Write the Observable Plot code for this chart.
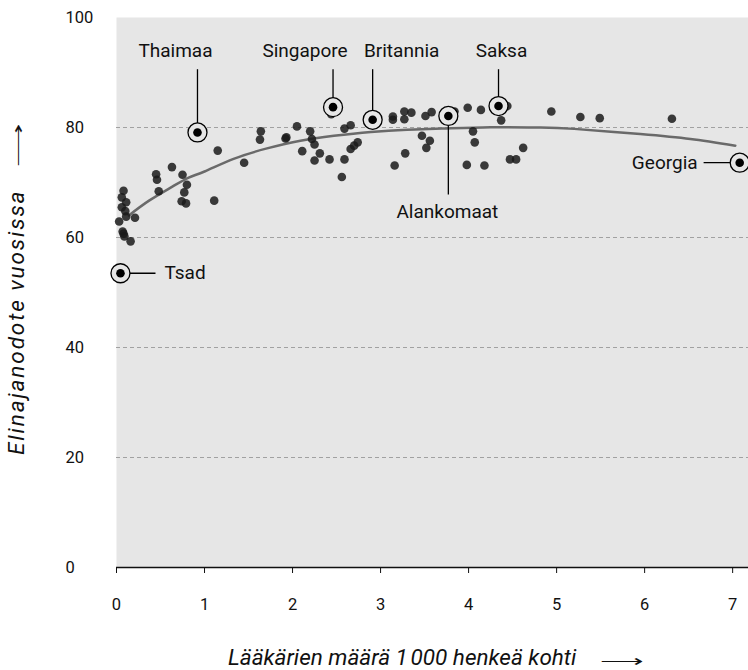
<!DOCTYPE html>
<html>
<head>
<meta charset="utf-8">
<script src="https://cdn.jsdelivr.net/npm/d3@7"></script>
<script src="https://cdn.jsdelivr.net/npm/@observablehq/plot@0.6"></script>
<style>
  body { margin: 0; background: #fff; }
  svg { font-family: Roboto, "Noto Sans", sans-serif; }
</style>
</head>
<body>
<div id="chart"></div>
<script>
// Doctors per 1 000 people (x) and life expectancy in years (y)
const doctors = [0.08,0.06,0.11,0.06,0.10,0.11,0.03,0.21,0.07,0.08,0.09,0.16,
  0.45,0.46,0.48,0.63,0.75,0.80,0.77,0.74,0.79,1.11,1.15,1.45,1.64,1.63,1.92,1.93,
  2.05,2.20,2.22,2.25,2.11,2.31,2.25,2.42,2.59,2.56,2.44,2.59,2.66,2.66,2.70,2.74,
  3.14,3.14,3.27,3.27,3.35,3.51,3.58,3.47,3.56,3.52,3.28,3.16,3.84,3.99,3.98,4.14,
  4.44,4.37,4.05,4.07,4.18,4.47,4.54,4.62,4.94,5.27,5.49,6.31];
const lifeExp = [68.5,67.3,66.4,65.5,64.8,63.8,62.9,63.6,61.1,60.7,60.2,59.3,
  71.5,70.5,68.4,72.8,71.4,69.6,68.2,66.6,66.2,66.7,75.8,73.6,79.3,77.8,78.0,78.2,
  80.2,79.3,77.9,76.9,75.7,75.3,74.0,74.2,74.2,71.0,82.4,79.8,80.4,76.1,76.7,77.3,
  82.0,81.4,82.9,81.5,82.7,82.1,82.8,78.5,77.6,76.3,75.3,73.1,82.9,83.6,73.2,83.2,
  83.9,81.3,79.3,77.3,73.1,74.2,74.2,76.3,82.9,81.9,81.7,81.6];

// Highlighted countries
const hlNames = ["Tsad","Thaimaa","Singapore","Britannia","Alankomaat","Saksa","Georgia"];
const hlDoctors = [0.045,0.92,2.46,2.91,3.77,4.34,7.08];
const hlLifeExp = [53.5,79.1,83.7,81.4,82.1,83.9,73.6];

// Trend curve
const trendX = [0.14,0.37,0.63,0.82,1.0,1.33,1.71,2.09,2.47,2.89,3.3,3.7,4.25,4.8,5.2,5.95,6.52,7.03];
const trendY = [64.0,66.7,69.2,70.9,72.0,74.3,76.2,77.6,78.5,79.2,79.6,79.8,80.05,80.0,79.75,78.8,77.9,76.7];

const yTicks = [0,20,40,60,80,100];
const xTicks = [0,1,2,3,4,5,6,7];
const gridTicks = [20,40,60,80];

const points = doctors.map((x,i) => ({x, y: lifeExp[i]}));
const hl = hlNames.map((name,i) => ({name, x: hlDoctors[i], y: hlLifeExp[i]}));
const trend = trendX.map((x,i) => ({x, y: trendY[i]}));

const BG = "#e6e6e6";
const LABEL_SIZE = 19;
const annotations = {
  Thaimaa:    {dir: "up", dx: -22},
  Singapore:  {dir: "up", dx: -28},
  Britannia:  {dir: "up", dx: 29},
  Saksa:      {dir: "up", dx: 3},
  Alankomaat: {dir: "down", dx: -1},
  Georgia:    {dir: "left"},
  Tsad:       {dir: "right"}
};

const annMarks = [];
for (const d of hl) {
  const a = annotations[d.name];
  const common = {text: "name", fontSize: LABEL_SIZE, fill: "#111"};
  if (a.dir === "up") {
    annMarks.push(Plot.link([d], {x1: "x", y1: "y", x2: "x", y2: () => 90.6, stroke: "black", strokeWidth: 1.3}));
    annMarks.push(Plot.text([d], {x: "x", y: () => 94, dx: a.dx, ...common}));
  } else if (a.dir === "down") {
    annMarks.push(Plot.link([d], {x1: "x", y1: "y", x2: "x", y2: () => 67.8, stroke: "black", strokeWidth: 1.3}));
    annMarks.push(Plot.text([d], {x: "x", y: () => 64.6, dx: a.dx, ...common}));
  } else if (a.dir === "left") {
    annMarks.push(Plot.link([d], {x1: "x", y1: "y", x2: () => 6.67, y2: "y", stroke: "black", strokeWidth: 1.3}));
    annMarks.push(Plot.text([d], {x: () => 6.67, y: "y", dx: -6, textAnchor: "end", ...common}));
  } else {
    annMarks.push(Plot.link([d], {x1: "x", y1: "y", x2: () => 0.443, y2: "y", stroke: "black", strokeWidth: 1.3}));
    annMarks.push(Plot.text([d], {x: () => 0.443, y: "y", dx: 9, textAnchor: "start", ...common}));
  }
}

const chart = Plot.plot({
  width: 748,
  height: 670,
  marginLeft: 116,
  marginRight: 0,
  marginTop: 17,
  marginBottom: 103,
  style: {fontFamily: "Roboto, 'Noto Sans', sans-serif", fontSize: "16px", color: "#111", background: "#fff"},
  x: {domain: [0, 7.18], label: null},
  y: {domain: [0, 100], label: null},
  marks: [
    Plot.frame({fill: BG, stroke: null}),
    Plot.gridY(gridTicks, {stroke: "#999", strokeOpacity: 0.9, strokeDasharray: "4,3", strokeWidth: 1}),
    Plot.line(trend, {x: "x", y: "y", curve: "natural", stroke: "#6a6a6a", strokeWidth: 2.5}),
    Plot.dot(points, {x: "x", y: "y", r: 4.3, fill: "#1a1a1a", fillOpacity: 0.85, stroke: "none"}),
    ...annMarks,
    Plot.dot(hl, {x: "x", y: "y", r: 9.5, fill: BG, stroke: "black", strokeWidth: 1.3}),
    Plot.dot(hl, {x: "x", y: "y", r: 4.3, fill: "black"}),
    Plot.ruleY([0], {stroke: "#111", strokeWidth: 1.5}),
    Plot.axisX(xTicks, {tickSize: 6, tickPadding: 25, stroke: "#111", fontSize: 16.5, label: null}),
    Plot.axisY(yTicks, {tickSize: 0, textAnchor: "start", dx: -42, fontSize: 16.5, label: null})
  ]
});

const svg = d3.select(chart);
// x-axis title
svg.append("text")
  .attr("x", 228).attr("y", 665)
  .attr("text-anchor", "start")
  .attr("font-style", "italic")
  .attr("font-size", 22.5)
  .attr("fill", "#111")
  .text("Lääkärien määrä 1\u202F000 henkeä kohti");
svg.append("text")
  .attr("transform", "translate(600,660) scale(1.9,1)")
  .attr("text-anchor", "start")
  .attr("dominant-baseline", "central")
  .attr("font-size", 16)
  .attr("fill", "#111")
  .text("\u27F6");
// y-axis title
svg.append("text")
  .attr("transform", "translate(24,455) rotate(-90)")
  .attr("text-anchor", "start")
  .attr("font-style", "italic")
  .attr("font-size", 22.5)
  .attr("letter-spacing", 1.9)
  .attr("fill", "#111")
  .text("Elinajanodote vuosissa");
svg.append("text")
  .attr("transform", "translate(17,167) rotate(-90) scale(1.9,1)")
  .attr("text-anchor", "start")
  .attr("dominant-baseline", "central")
  .attr("font-size", 16)
  .attr("fill", "#111")
  .text("\u27F6");

document.getElementById("chart").appendChild(chart);
</script>
</body>
</html>
